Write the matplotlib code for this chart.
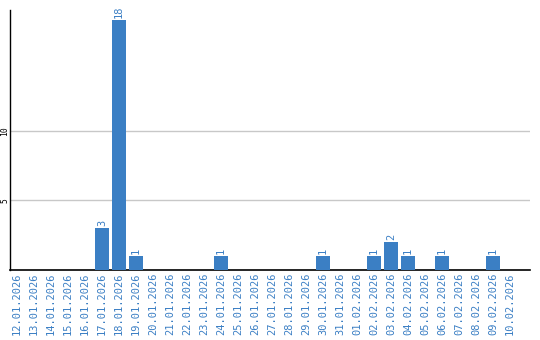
import numpy as np
import matplotlib.pyplot as plt

# Daten
dates = ['12.01.2026', '13.01.2026', '14.01.2026', '15.01.2026', '16.01.2026',
         '17.01.2026', '18.01.2026', '19.01.2026', '20.01.2026', '21.01.2026',
         '22.01.2026', '23.01.2026', '24.01.2026', '25.01.2026', '26.01.2026',
         '27.01.2026', '28.01.2026', '29.01.2026', '30.01.2026', '31.01.2026',
         '01.02.2026', '02.02.2026', '03.02.2026', '04.02.2026', '05.02.2026',
         '06.02.2026', '07.02.2026', '08.02.2026', '09.02.2026', '10.02.2026']
counts = [0, 0, 0, 0, 0, 3, 18, 1, 0, 0, 0, 0, 1, 0, 0,
          0, 0, 0, 1, 0, 0, 1, 2, 1, 0, 1, 0, 0, 1, 0]
yticks = [5, 10]

blue = '#3b7fc4'
font = 'DejaVu Sans Mono'

fig = plt.figure(figsize=(5.4, 3.4), dpi=100)
ax = fig.add_axes([10/540, 70/340, 520/540, 260/340])

x = np.arange(len(dates))
ax.bar(x, counts, width=0.82, color=blue, zorder=3)

for xi, c in zip(x, counts):
    if c > 0:
        ax.text(xi, c + 0.15, str(c), rotation=90, ha='center', va='bottom',
                color=blue, fontsize=7.5, family=font)

ax.set_xlim(-0.41, 30.18)
ax.set_ylim(0, 18.7)
ax.set_xticks(x)
ax.set_xticklabels(dates, rotation=90, color=blue, fontsize=7.5, family=font)
ax.set_yticks(yticks)
ax.set_yticklabels([str(t) for t in yticks], rotation=90, fontsize=5.8,
                   family=font, va='center')
ax.tick_params(axis='x', length=0, pad=2)
ax.tick_params(axis='y', length=0, pad=0.5)
ax.grid(axis='y', color='#c8c8c8', linewidth=1, zorder=0)

for s in ['top', 'right']:
    ax.spines[s].set_visible(False)
ax.spines['left'].set_linewidth(1)
ax.spines['bottom'].set_linewidth(1.2)

fig.savefig('out.png', dpi=100)
